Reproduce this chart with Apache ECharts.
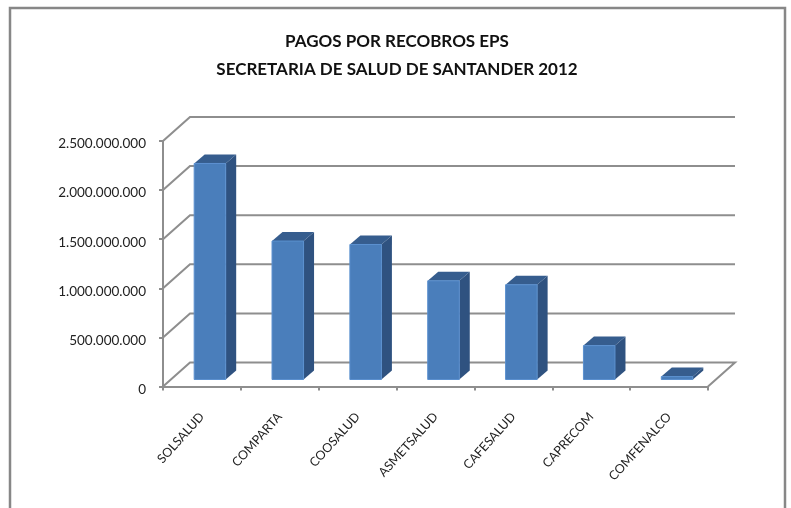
<!DOCTYPE html>
<html>
<head>
<meta charset="utf-8">
<style>html,body{margin:0;padding:0;background:#fff}#main{width:791px;height:508px}</style>
<script src="https://cdn.jsdelivr.net/npm/echarts@6/dist/echarts.min.js"></script>
</head>
<body>
<div id="main"></div>
<script>
const categories = ['SOLSALUD','COMPARTA','COOSALUD','ASMETSALUD','CAFESALUD','CAPRECOM','COMFENALCO'];
const pagos = [2200000000,1410000000,1375000000,1005000000,965000000,345000000,30000000];
const yTicks = [0,500000000,1000000000,1500000000,2000000000,2500000000];

// depth of the fake 3d box, in pixels
const wallDx = 27, wallDy = -24;
const barShiftX = 8, barShiftY = -7;
const barDx = 10.5, barDy = -9;

function dots(v){
  return String(v).replace(/\B(?=(\d{3})+(?!\d))/g,'.');
}

function renderWall(params, api){
  let r = params.coordSys;
  let y = api.coord([0, api.value(1)])[1];
  let pts = [[r.x,y],[r.x+wallDx,y+wallDy],[r.x+r.width+wallDx,y+wallDy]];
  if (api.value(1) == 0) pts = [[r.x,y],[r.x+wallDx,y+wallDy],[r.x+r.width+wallDx,y+wallDy],[r.x+r.width,y]];
  return {
    type:'polyline',
    shape:{points:pts},
    style:{stroke:'#8e8e8e',lineWidth:2,fill:null}
  };
}

function renderBar(params, api){
  let top = api.coord([api.value(0), api.value(1)]);
  let base = api.coord([api.value(0), 0]);
  let w = api.size([1,0])[0]*0.405;
  let x0 = top[0]-w/2+barShiftX, x1 = x0+w;
  let y0 = base[1]+barShiftY, y1 = top[1]+barShiftY;
  return {
    type:'group',
    children:[
      {type:'polygon',shape:{points:[[x1,y1],[x1+barDx,y1+barDy],[x1+barDx,y0+barDy],[x1,y0]]},style:{fill:'#2f5280'}},
      {type:'polygon',shape:{points:[[x0,y1],[x0+barDx,y1+barDy],[x1+barDx,y1+barDy],[x1,y1]]},style:{fill:'#365d8e'}},
      {type:'rect',shape:{x:x0,y:y1,width:w,height:y0-y1},style:{fill:'#4a7ebb',stroke:'#5b90cf',lineWidth:1}}
    ]
  };
}

let myChart = echarts.init(document.getElementById('main'),null,{renderer:'canvas'});
let option = {
  animation:false,
  backgroundColor:'#fff',
  textStyle:{fontFamily:'Lato'},
  title:[
    {text:'PAGOS POR RECOBROS EPS',left:392,top:28,textAlign:'center',textStyle:{fontFamily:'Lato',fontSize:17,fontWeight:'bold',color:'#111'}},
    {text:'SECRETARIA DE SALUD DE SANTANDER 2012',left:392,top:56,textAlign:'center',textStyle:{fontFamily:'Lato',fontSize:17,fontWeight:'bold',color:'#111'}}
  ],
  graphic:[
    {type:'polyline',silent:true,shape:{points:[[10,508],[10,8],[785,8],[785,508]]},style:{stroke:'#878787',lineWidth:2.5,fill:null}}
  ],
  grid:{left:163,right:83,top:141,bottom:121.5},
  xAxis:{
    type:'category',
    data:categories,
    axisLine:{lineStyle:{color:'#8e8e8e',width:2}},
    axisTick:{show:true,length:4,lineStyle:{color:'#8e8e8e',width:2}},
    axisLabel:{rotate:48,margin:28,fontFamily:'Lato',fontSize:12.5,color:'#222'}
  },
  yAxis:{
    type:'value',
    min:0,
    max:2500000000,
    interval:500000000,
    splitLine:{show:false},
    axisLine:{show:true,lineStyle:{color:'#8e8e8e',width:2}},
    axisTick:{show:true,length:4,lineStyle:{color:'#8e8e8e',width:2}},
    axisLabel:{margin:17,verticalAlign:'top',lineHeight:6,fontFamily:'Lato',fontSize:13.5,color:'#222',formatter:dots}
  },
  series:[
    {type:'custom',z:1,silent:true,renderItem:renderWall,encode:{x:0,y:1},data:yTicks.map(v=>[0,v])},
    {type:'custom',z:3,renderItem:renderBar,encode:{x:0,y:1},data:pagos.map((v,i)=>[i,v])}
  ]
};
myChart.setOption(option);
</script>
</body>
</html>
